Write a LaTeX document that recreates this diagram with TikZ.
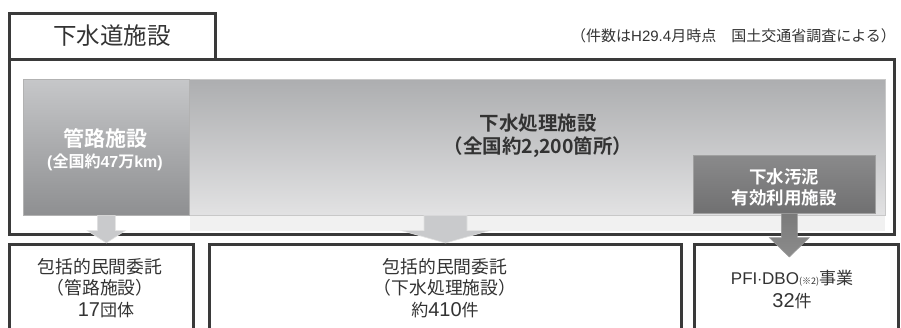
\documentclass[tikz,border=0pt]{standalone}
\usepackage{fontspec}
\newfontfamily\jp{Noto Sans CJK JP}[BoldFont={Noto Sans CJK JP Bold}]
\newfontfamily\lat{Liberation Sans}
\usetikzlibrary{calc}
\definecolor{frm}{HTML}{3A3A3A}
\definecolor{txt}{HTML}{333333}
\definecolor{kTop}{HTML}{C6C7C9}
\definecolor{kBot}{HTML}{8E8F91}
\definecolor{gTop}{HTML}{ADAEB0}
\definecolor{gBot}{HTML}{E2E2E3}
\definecolor{gEdge}{HTML}{C8C8C8}
\definecolor{sTop}{HTML}{8A8A8B}
\definecolor{sBot}{HTML}{707071}
\definecolor{sEdge}{HTML}{A0A0A0}
\definecolor{laFill}{HTML}{C9CACC}
\definecolor{laEdge}{HTML}{E2E2E2}
\definecolor{daTop}{HTML}{7A7A7A}
\definecolor{daBot}{HTML}{8C8C8C}
\definecolor{daEdge}{HTML}{9A9A9A}
\definecolor{band}{HTML}{F1F1F1}
\tikzset{
  frame/.style={draw=frm, line width=3pt},
  tab/.style={frame, fill=white, anchor=north west, inner sep=0pt},
  bottombox/.style={frame, fill=white, anchor=north west, inner sep=0pt},
  kanrobox/.style={anchor=north west, inner sep=0pt, draw=gray!60, line width=0.6pt,
     top color=kTop, bottom color=kBot},
  gesuibox/.style={anchor=north west, inner sep=0pt, top color=gTop, bottom color=gBot, draw=gEdge, line width=0.6pt},
  sludgebox/.style={anchor=north west, inner sep=0pt, top color=sTop, bottom color=sBot, draw=sEdge, line width=0.6pt},
  lbl/.style={font=\jp, text=txt, align=center, inner sep=0pt},
  wlbl/.style={font=\jp\bfseries, text=white, align=center, inner sep=0pt},
  lightarrow/.style={fill=laFill, draw=laEdge, line width=0.6pt},
  darkarrow/.style={top color=daTop, bottom color=daBot, draw=daEdge, line width=0.6pt}
}
\begin{document}
\begin{tikzpicture}[x=1pt,y=-1pt]
\useasboundingbox (0,0) rectangle (901,328);
\clip (0,0) rectangle (901,328);
% outer frame and tab
\node[tab, minimum width=885pt, minimum height=175pt] (outer) at (8,58) {};
\node[tab, minimum width=206pt, minimum height=46pt] (tabbox) at (8,12) {};
\node[lbl, font=\jp\fontsize{23.5}{24}\selectfont] (title) at (112,36) {下水道施設};
\node[lbl, anchor=east, font=\jp\fontsize{15}{16}\selectfont] (note) at (896,36) {（件数は{\lat H29.4}月時点　国土交通省調査による）};
% reflection band
\fill[band] (190,216) rectangle (885,231.5);
% facility boxes
\node[gesuibox, minimum width=696pt, minimum height=136pt] (gesui) at (189,79) {};
\node[kanrobox, minimum width=166pt, minimum height=136pt] (kanro) at (23,79) {};
\node[sludgebox, minimum width=182pt, minimum height=58pt] (sludge) at (693,155) {};
% labels in boxes
\node[wlbl, font=\jp\bfseries\fontsize{21}{21}\selectfont] (kanroT) at (105,138) {管路施設};
\node[wlbl, font=\jp\bfseries\fontsize{16}{16}\selectfont] (kanroS) at (105,162) {{\lat\bfseries (}全国約{\lat\bfseries 47}万{\lat\bfseries km)}};
\node[lbl, font=\jp\bfseries\fontsize{19.5}{20}\selectfont] (gesuiT) at (538,123) {下水処理施設};
\node[lbl, font=\jp\bfseries\fontsize{19.5}{20}\selectfont] (gesuiS) at (538,147) {（全国約2,200箇所）};
\node[wlbl, font=\jp\bfseries\fontsize{17.5}{18}\selectfont] (sludgeA) at (784,177) {下水汚泥};
\node[wlbl, font=\jp\bfseries\fontsize{17.5}{18}\selectfont] (sludgeB) at (784,198) {有効利用施設};
% bottom boxes
\node[bottombox, minimum width=184pt, minimum height=110pt] (b1) at (8,243) {};
\node[bottombox, minimum width=472pt, minimum height=110pt] (b2) at (208,243) {};
\node[bottombox, minimum width=204pt, minimum height=110pt] (b3) at (693,243) {};
% arrows
\draw[lightarrow] ($(kanro.south)+(-9,0)$) -- ($(kanro.south)+(9,0)$) -- ($(kanro.south)+(9,15)$)
  -- ($(kanro.south)+(19,15)$) -- (kanro.south |- b1.north) -- ($(kanro.south)+(-19,15)$)
  -- ($(kanro.south)+(-9,15)$) -- cycle;
\coordinate (mtop) at (b2.north |- gesui.south);
\draw[lightarrow] ($(mtop)+(-21.5,0)$) -- ($(mtop)+(21.5,0)$) -- ($(mtop)+(21.5,15)$)
  -- ($(mtop)+(44,15)$) -- (b2.north) -- ($(mtop)+(-44,15)$)
  -- ($(mtop)+(-21.5,15)$) -- cycle;
\coordinate (rtop) at ($(sludge.south)+(5,0)$);
\coordinate (rtip) at ($(rtop |- b3.north)+(0,14)$);
\draw[darkarrow] ($(rtop)+(-8,0)$) -- ($(rtop)+(8,0)$) -- ($(rtop)+(8,24)$)
  -- ($(rtop)+(20,24)$) -- (rtip) -- ($(rtop)+(-20,24)$)
  -- ($(rtop)+(-8,24)$) -- cycle;
% bottom texts
\node[lbl, font=\jp\fontsize{17.8}{18}\selectfont] (b1a) at (100,267) {包括的民間委託};
\node[lbl, font=\jp\fontsize{17.8}{18}\selectfont] (b1b) at (100,288) {（管路施設）};
\node[lbl, font=\jp\fontsize{17}{17}\selectfont] (b1c) at (106,310) {{\lat\fontsize{20}{20}\selectfont 17}団体};
\node[lbl, font=\jp\fontsize{17.8}{18}\selectfont] (b2a) at (445,267) {包括的民間委託};
\node[lbl, font=\jp\fontsize{17.8}{18}\selectfont] (b2b) at (445,288) {（下水処理施設）};
\node[lbl, font=\jp\fontsize{17}{17}\selectfont] (b2c) at (445,310) {約{\lat\fontsize{20}{20}\selectfont 410}件};
\node[lbl, font=\jp\fontsize{17}{17}\selectfont] (b3a) at (792,278) {{\lat\fontsize{17}{17}\selectfont PFI$\cdot$DBO}{\fontsize{9}{9}\selectfont (※2)}事業};
\node[lbl, font=\jp\fontsize{17}{17}\selectfont] (b3b) at (792,301) {{\lat\fontsize{20}{20}\selectfont 32}件};
\end{tikzpicture}
\end{document}
